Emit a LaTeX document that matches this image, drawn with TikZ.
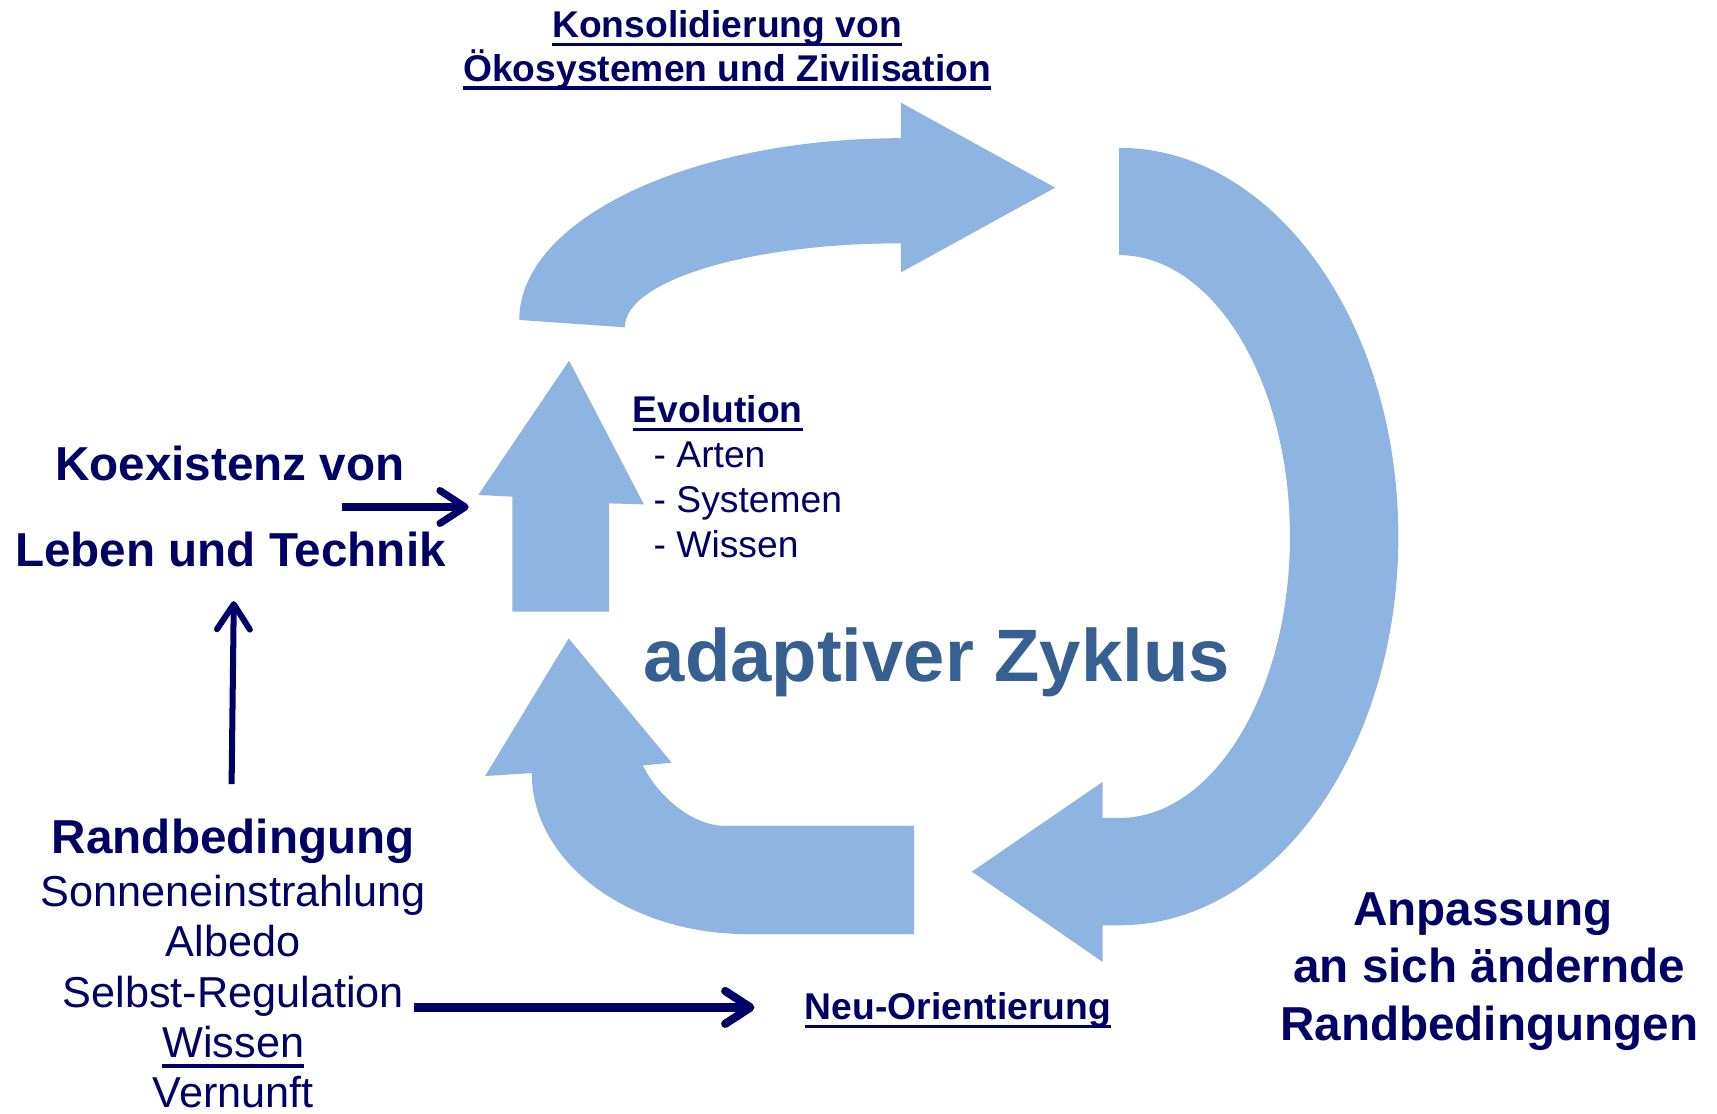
\documentclass[tikz,border=0pt]{standalone}
\usepackage{fontspec}
\setmainfont{Liberation Sans}
\usetikzlibrary{arrows.meta}
\definecolor{navy}{RGB}{0,0,102}
\definecolor{cycblue}{RGB}{142,180,226}
\definecolor{zykl}{RGB}{55,96,146}
\newcommand{\ulin}[1]{\setbox0=\hbox{#1}\rlap{\rule[-0.235em]{\wd0}{0.09em}}\box0}
\newcommand{\fA}{\fontsize{34}{40}\selectfont}
\newcommand{\fB}{\fontsize{43.5}{52}\selectfont\bfseries}
\newcommand{\fR}{\fontsize{39.5}{46}\selectfont}
\begin{document}
\begin{tikzpicture}[x=1pt,y=-1pt,
  lbl/.style={inner sep=0pt, outer sep=0pt, text=navy, anchor=base},
  lblw/.style={lbl, anchor=base west},
  cyc/.style={fill=cycblue, draw=none},
  navyarrow/.style={draw=navy, line width=6.5pt, line cap=butt,
    -{Straight Barb[length=23pt, width=30pt, round]}}]
\useasboundingbox (0,0) rectangle (1568,1017);
\fill[white] (0,0) rectangle (1568,1017);

% big light-blue cycle arrows
\path[cyc] (474.2,292.2) arc[start angle=180, end angle=270, x radius=348.6, y radius=166]
  -- (822.8,93.8) -- (963.5,171.4) -- (822.8,248.7) -- (822.8,222.2)
  arc[start angle=270, end angle=180, x radius=252.2, y radius=76.7] -- cycle;
\path[cyc] (1022,135) arc[start angle=-90, end angle=90, x radius=255, y radius=355]
  -- (1007,845) -- (1007,878.5) -- (887.5,796) -- (1007,714) -- (1007,747) -- (1022,747)
  arc[start angle=90, end angle=-90, x radius=156, y radius=257] -- cycle;
\path[cyc] (834.7,853) -- (682,853) arc[start angle=90, end angle=180, x radius=196.4, y radius=147]
  -- (443,708.7) -- (519.3,583) -- (613.4,696.5) -- (587,699)
  .. controls (600,725) and (630,754.3) .. (663.6,754.3) -- (834.7,754.3) -- cycle;
\path[cyc] (467.9,558.6) -- (467.9,453.6) -- (436.8,452) -- (519.7,329.4) -- (588,460.6)
  -- (556.2,459.7) -- (556.2,558.6) -- cycle;

% texts
\node[lbl, font=\fA\bfseries] (kons1) at (664,34) {\ulin{Konsolidierung von}};
\node[lbl, font=\fA\bfseries] (kons2) at (664,74) {\ulin{Ökosystemen und Zivilisation}};
\node[lblw, font=\fA\bfseries] (evo) at (578,386) {\ulin{Evolution}};
\node[lblw, font=\fA] (arten) at (597,427) {- Arten};
\node[lblw, font=\fA] (syst) at (597,468) {- Systemen};
\node[lblw, font=\fA] (wissA) at (597,509) {- Wissen};
\node[lblw, text=zykl, font=\fontsize{67.8}{80}\selectfont\bfseries] (zyk) at (588,622) {adaptiver Zyklus};
\node[lbl, font=\fB] (koex) at (210,438.5) {Koexistenz von};
\node[lbl, font=\fB] (leben) at (210.5,517.5) {Leben und Technik};
\node[lbl, font=\fB] (rand) at (213,779) {Randbedingung};
\node[lbl, font=\fR] (sonne) at (213,827.5) {Sonneneinstrahlung};
\node[lbl, font=\fR] (albedo) at (213,873.5) {Albedo};
\node[lbl, font=\fR] (selbst) at (213,920) {Selbst-Regulation};
\node[lbl, font=\fR] (wissB) at (213,966) {\ulin{Wissen}};
\node[lbl, font=\fR] (vern) at (213,1011.5) {Vernunft};
\node[lblw, font=\fA\bfseries] (neu) at (735,931) {\ulin{Neu-Orientierung}};
\node[lbl, font=\fB] (anp1) at (1354,845.5) {Anpassung};
\node[lbl, font=\fB] (anp2) at (1360,897.5) {an sich ändernde};
\node[lbl, font=\fB] (anp3) at (1360,950.5) {Randbedingungen};

% navy arrows
\coordinate (k1) at (312,463);
\coordinate (k2) at (428,463);
\coordinate (r1) at (211.5,716);
\coordinate (r2) at (213.5,549);
\coordinate (s1) at (378,920);
\coordinate (s2) at (689,920);
\draw[navyarrow] (k1) -- (k2);
\draw[navyarrow, line width=5.5pt] (r1) -- (r2);
\draw[navyarrow, line width=7.5pt] (s1) -- (s2);
\end{tikzpicture}
\end{document}
